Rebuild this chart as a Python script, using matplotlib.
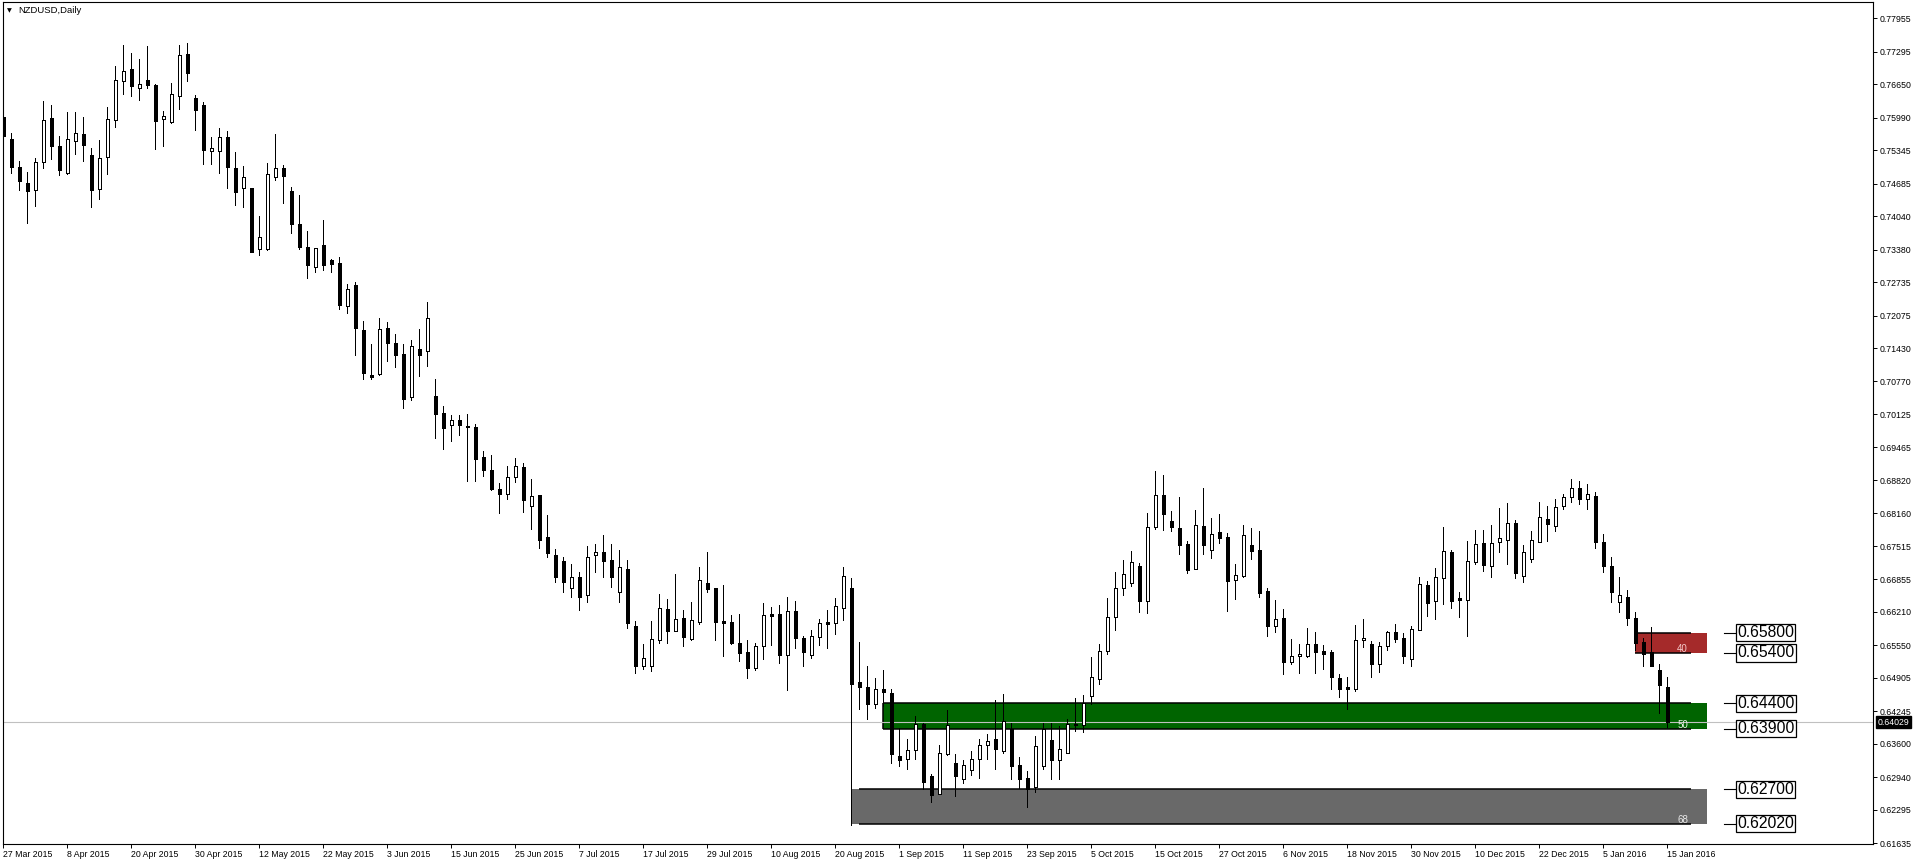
import matplotlib
matplotlib.use("Agg")
import matplotlib.pyplot as plt
from matplotlib.patches import Rectangle
from matplotlib.transforms import blended_transform_factory

# NZDUSD daily candles, 27 Mar 2015 .. 15 Jan 2016
opens = [0.7600, 0.7556, 0.7502, 0.7470, 0.7455, 0.7511, 0.7598, 0.7543, 0.7489, 0.7552,
         0.7566, 0.7525, 0.7458, 0.7522, 0.7594, 0.7671, 0.7696, 0.7658, 0.7673, 0.7663,
         0.7596, 0.7591, 0.7642, 0.7725, 0.7637, 0.7624, 0.7532, 0.7532, 0.7561, 0.7499,
         0.7459, 0.7460, 0.7339, 0.7340, 0.7482, 0.7499, 0.7453, 0.7388, 0.7344, 0.7304,
         0.7346, 0.7317, 0.7311, 0.7227, 0.7267, 0.7179, 0.7089, 0.7092, 0.7182, 0.7154,
         0.7131, 0.7046, 0.7141, 0.7137, 0.7048, 0.7015, 0.6990, 0.7000, 0.6988, 0.6987,
         0.6927, 0.6902, 0.6864, 0.6854, 0.6889, 0.6907, 0.6830, 0.6852, 0.6769, 0.6734,
         0.6722, 0.6668, 0.6690, 0.6655, 0.6733, 0.6739, 0.6723, 0.6660, 0.6707, 0.6593,
         0.6515, 0.6514, 0.6565, 0.6626, 0.6583, 0.6610, 0.6568, 0.6602, 0.6678, 0.6668,
         0.6603, 0.6601, 0.6559, 0.6542, 0.6510, 0.6553, 0.6617, 0.6617, 0.6535, 0.6622,
         0.6569, 0.6535, 0.6571, 0.6601, 0.6600, 0.6628, 0.6668, 0.6482, 0.6472, 0.6438,
         0.6468, 0.6460, 0.6337, 0.6330, 0.6347, 0.6400, 0.6296, 0.6260, 0.6341, 0.6322,
         0.6290, 0.6308, 0.6330, 0.6357, 0.6370, 0.6345, 0.6390, 0.6318, 0.6292, 0.6274,
         0.6316, 0.6367, 0.6328, 0.6343, 0.6397, 0.6398, 0.6454, 0.6489, 0.6543, 0.6611,
         0.6668, 0.6678, 0.6711, 0.6642, 0.6789, 0.6852, 0.6801, 0.6787, 0.6755, 0.6707,
         0.6792, 0.6743, 0.6779, 0.6769, 0.6684, 0.6693, 0.6753, 0.6744, 0.6663, 0.6594,
         0.6609, 0.6523, 0.6533, 0.6533, 0.6557, 0.6543, 0.6541, 0.6490, 0.6472, 0.6469,
         0.6565, 0.6557, 0.6519, 0.6553, 0.6581, 0.6569, 0.6527, 0.6585, 0.6674, 0.6643,
         0.6689, 0.6739, 0.6649, 0.6645, 0.6720, 0.6757, 0.6711, 0.6759, 0.6764, 0.6798,
         0.6692, 0.6726, 0.6760, 0.6804, 0.6792, 0.6830, 0.6848, 0.6866, 0.6845, 0.6850,
         0.6760, 0.6712, 0.6640, 0.6650, 0.6610, 0.6561, 0.6541, 0.6506, 0.6472]
highs = [0.7601, 0.7568, 0.7513, 0.7492, 0.7519, 0.7632, 0.7623, 0.7563, 0.7610, 0.7610,
         0.7600, 0.7538, 0.7555, 0.7619, 0.7701, 0.7743, 0.7727, 0.7715, 0.7741, 0.7665,
         0.7612, 0.7667, 0.7743, 0.7747, 0.7644, 0.7629, 0.7561, 0.7579, 0.7573, 0.7530,
         0.7504, 0.7460, 0.7404, 0.7509, 0.7566, 0.7505, 0.7461, 0.7446, 0.7375, 0.7342,
         0.7396, 0.7319, 0.7323, 0.7270, 0.7273, 0.7197, 0.7151, 0.7203, 0.7194, 0.7170,
         0.7151, 0.7159, 0.7181, 0.7234, 0.7082, 0.7029, 0.7010, 0.7010, 0.7013, 0.6993,
         0.6939, 0.6932, 0.6876, 0.6910, 0.6925, 0.6915, 0.6884, 0.6852, 0.6812, 0.6745,
         0.6730, 0.6715, 0.6700, 0.6752, 0.6755, 0.6773, 0.6755, 0.6743, 0.6723, 0.6603,
         0.6558, 0.6603, 0.6657, 0.6646, 0.6696, 0.6624, 0.6641, 0.6710, 0.6740, 0.6668,
         0.6674, 0.6615, 0.6617, 0.6566, 0.6560, 0.6639, 0.6630, 0.6635, 0.6651, 0.6643,
         0.6573, 0.6585, 0.6607, 0.6625, 0.6649, 0.6710, 0.6688, 0.6562, 0.6514, 0.6490,
         0.6506, 0.6468, 0.6391, 0.6369, 0.6415, 0.6402, 0.6300, 0.6358, 0.6427, 0.6340,
         0.6328, 0.6346, 0.6370, 0.6380, 0.6447, 0.6459, 0.6401, 0.6334, 0.6307, 0.6376,
         0.6402, 0.6402, 0.6396, 0.6409, 0.6450, 0.6457, 0.6532, 0.6558, 0.6648, 0.6700,
         0.6724, 0.6742, 0.6718, 0.6816, 0.6900, 0.6892, 0.6821, 0.6848, 0.6761, 0.6822,
         0.6866, 0.6806, 0.6814, 0.6777, 0.6716, 0.6793, 0.6787, 0.6781, 0.6668, 0.6644,
         0.6627, 0.6568, 0.6558, 0.6589, 0.6581, 0.6556, 0.6546, 0.6498, 0.6492, 0.6595,
         0.6607, 0.6564, 0.6561, 0.6583, 0.6597, 0.6579, 0.6593, 0.6690, 0.6682, 0.6708,
         0.6789, 0.6744, 0.6660, 0.6761, 0.6783, 0.6783, 0.6793, 0.6827, 0.6837, 0.6802,
         0.6753, 0.6781, 0.6839, 0.6831, 0.6845, 0.6854, 0.6885, 0.6880, 0.6875, 0.6858,
         0.6775, 0.6730, 0.6690, 0.6665, 0.6620, 0.6569, 0.6592, 0.6518, 0.6493]
lows = [0.7543, 0.7489, 0.7456, 0.7391, 0.7425, 0.7500, 0.7518, 0.7486, 0.7488, 0.7527,
        0.7514, 0.7423, 0.7438, 0.7488, 0.7581, 0.7646, 0.7642, 0.7634, 0.7658, 0.7537,
        0.7543, 0.7589, 0.7616, 0.7672, 0.7575, 0.7507, 0.7507, 0.7490, 0.7460, 0.7427,
        0.7422, 0.7334, 0.7327, 0.7337, 0.7476, 0.7431, 0.7370, 0.7340, 0.7282, 0.7294,
        0.7298, 0.7294, 0.7221, 0.7213, 0.7130, 0.7081, 0.7082, 0.7090, 0.7118, 0.7105,
        0.7025, 0.7041, 0.7087, 0.7108, 0.6966, 0.6944, 0.6960, 0.6972, 0.6881, 0.6881,
        0.6890, 0.6863, 0.6816, 0.6845, 0.6879, 0.6818, 0.6786, 0.6748, 0.6730, 0.6680,
        0.6660, 0.6650, 0.6625, 0.6640, 0.6700, 0.6690, 0.6670, 0.6640, 0.6590, 0.6500,
        0.6508, 0.6505, 0.6559, 0.6560, 0.6583, 0.6554, 0.6565, 0.6598, 0.6661, 0.6566,
        0.6534, 0.6558, 0.6525, 0.6491, 0.6506, 0.6528, 0.6556, 0.6520, 0.6467, 0.6550,
        0.6514, 0.6529, 0.6556, 0.6550, 0.6577, 0.6606, 0.6200, 0.6430, 0.6410, 0.6432,
        0.6435, 0.6322, 0.6317, 0.6311, 0.6331, 0.6271, 0.6245, 0.6260, 0.6339, 0.6256,
        0.6283, 0.6299, 0.6293, 0.6331, 0.6311, 0.6343, 0.6291, 0.6272, 0.6236, 0.6264,
        0.6310, 0.6290, 0.6290, 0.6343, 0.6386, 0.6384, 0.6438, 0.6479, 0.6537, 0.6586,
        0.6655, 0.6673, 0.6620, 0.6618, 0.6785, 0.6784, 0.6782, 0.6736, 0.6699, 0.6707,
        0.6736, 0.6727, 0.6758, 0.6622, 0.6647, 0.6691, 0.6725, 0.6651, 0.6574, 0.6581,
        0.6499, 0.6519, 0.6501, 0.6531, 0.6501, 0.6509, 0.6469, 0.6453, 0.6430, 0.6465,
        0.6552, 0.6493, 0.6503, 0.6546, 0.6562, 0.6521, 0.6514, 0.6585, 0.6614, 0.6608,
        0.6636, 0.6628, 0.6612, 0.6574, 0.6716, 0.6703, 0.6691, 0.6740, 0.6715, 0.6689,
        0.6681, 0.6720, 0.6760, 0.6762, 0.6782, 0.6825, 0.6838, 0.6835, 0.6825, 0.6748,
        0.6700, 0.6640, 0.6620, 0.6595, 0.6545, 0.6515, 0.6515, 0.6421, 0.6394]
closes = [0.7563, 0.7502, 0.7474, 0.7453, 0.7511, 0.7594, 0.7543, 0.7496, 0.7556, 0.7568,
          0.7545, 0.7455, 0.7520, 0.7596, 0.7673, 0.7691, 0.7662, 0.7665, 0.7663, 0.7593,
          0.7602, 0.7645, 0.7722, 0.7688, 0.7615, 0.7534, 0.7538, 0.7561, 0.7502, 0.7451,
          0.7481, 0.7334, 0.7362, 0.7488, 0.7499, 0.7484, 0.7389, 0.7343, 0.7307, 0.7342,
          0.7307, 0.7309, 0.7229, 0.7259, 0.7182, 0.7094, 0.7085, 0.7180, 0.7154, 0.7130,
          0.7043, 0.7147, 0.7130, 0.7202, 0.7012, 0.6984, 0.7000, 0.6990, 0.6986, 0.6924,
          0.6901, 0.6865, 0.6855, 0.6889, 0.6909, 0.6843, 0.6850, 0.6764, 0.6737, 0.6690,
          0.6680, 0.6690, 0.6650, 0.6729, 0.6739, 0.6722, 0.6690, 0.6709, 0.6600, 0.6515,
          0.6529, 0.6567, 0.6628, 0.6583, 0.6608, 0.6572, 0.6605, 0.6684, 0.6667, 0.6602,
          0.6600, 0.6560, 0.6539, 0.6510, 0.6554, 0.6616, 0.6614, 0.6535, 0.6622, 0.6570,
          0.6541, 0.6573, 0.6600, 0.6598, 0.6632, 0.6693, 0.6479, 0.6473, 0.6438, 0.6468,
          0.6463, 0.6341, 0.6329, 0.6347, 0.6400, 0.6285, 0.6258, 0.6343, 0.6397, 0.6297,
          0.6318, 0.6330, 0.6357, 0.6365, 0.6349, 0.6405, 0.6317, 0.6291, 0.6270, 0.6355,
          0.6389, 0.6329, 0.6349, 0.6399, 0.6399, 0.6440, 0.6492, 0.6543, 0.6611, 0.6668,
          0.6696, 0.6719, 0.6642, 0.6789, 0.6852, 0.6814, 0.6790, 0.6754, 0.6705, 0.6794,
          0.6754, 0.6775, 0.6768, 0.6683, 0.6694, 0.6773, 0.6742, 0.6659, 0.6594, 0.6608,
          0.6523, 0.6533, 0.6537, 0.6557, 0.6541, 0.6537, 0.6493, 0.6469, 0.6469, 0.6565,
          0.6569, 0.6519, 0.6553, 0.6581, 0.6568, 0.6533, 0.6587, 0.6676, 0.6639, 0.6690,
          0.6741, 0.6643, 0.6645, 0.6721, 0.6755, 0.6713, 0.6757, 0.6767, 0.6798, 0.6699,
          0.6739, 0.6763, 0.6808, 0.6796, 0.6828, 0.6848, 0.6866, 0.6845, 0.6855, 0.6760,
          0.6712, 0.6660, 0.6655, 0.6610, 0.6560, 0.6537, 0.6515, 0.6477, 0.6403]

date_labels = ["27 Mar 2015", "8 Apr 2015", "20 Apr 2015", "30 Apr 2015", "12 May 2015",
               "22 May 2015", "3 Jun 2015", "15 Jun 2015", "25 Jun 2015", "7 Jul 2015",
               "17 Jul 2015", "29 Jul 2015", "10 Aug 2015", "20 Aug 2015", "1 Sep 2015",
               "11 Sep 2015", "23 Sep 2015", "5 Oct 2015", "15 Oct 2015", "27 Oct 2015",
               "6 Nov 2015", "18 Nov 2015", "30 Nov 2015", "10 Dec 2015", "22 Dec 2015",
               "5 Jan 2016", "15 Jan 2016"]
price_ticks = [0.77955, 0.77295, 0.76650, 0.75990, 0.75345, 0.74685, 0.74040, 0.73380,
               0.72735, 0.72075, 0.71430, 0.70770, 0.70125, 0.69465, 0.68820, 0.68160,
               0.67515, 0.66855, 0.66210, 0.65550, 0.64905, 0.64245, 0.63600, 0.62940,
               0.62295, 0.61635]

# support / resistance zones: (low, high, first bar, colour, count label)
zone_low = [0.6540, 0.6390, 0.6202]
zone_high = [0.6580, 0.6440, 0.6270]
zone_start = [204, 110, 106]
zone_colors = ["#a52a2a", "#006400", "#696969"]
zone_text = ["40", "50", "68"]
zone_text_colors = ["#f4c8c8", "#e8f0e8", "#e8e8e8"]

level_prices = [0.65800, 0.65400, 0.64400, 0.63900, 0.62700, 0.62020]
last_price = 0.64029

plt.rcParams["font.family"] = ["Liberation Sans", "DejaVu Sans"]

W, H = 1916, 866
fig = plt.figure(figsize=(W / 100, H / 100), dpi=100, facecolor="white")
ax = fig.add_axes([2.7 / W, (H - 844) / H, (1873 - 2.7) / W, 842 / H])

n = len(opens)
xs = list(range(n))

# zones behind the candles
for lo, hi, x0, col, txt, tcol in zip(zone_low, zone_high, zone_start, zone_colors,
                                       zone_text, zone_text_colors):
    ax.add_patch(Rectangle((x0, lo), 212.9 - x0, hi - lo, facecolor=col,
                           edgecolor="none", zorder=1))
    lx0 = x0 + 1 if col == "#696969" else x0
    ax.hlines([lo, hi], lx0, 210.9, color="black", lw=1.1, zorder=1.5)
    ax.text(209.9, lo + 0.0007, txt, color=tcol, fontsize=7, ha="center",
            va="center", zorder=4)
ax.vlines(zone_start[1], zone_low[1], zone_high[1], color="black", lw=1.1, zorder=1.5)

# last price line
ax.axhline(last_price, color="#c0c0c0", lw=0.8, zorder=1.8)

# candles
ax.vlines(xs, lows, highs, color="black", lw=0.72, zorder=2, antialiased=False)
bottoms = [min(o, c) for o, c in zip(opens, closes)]
heights = [abs(c - o) for o, c in zip(opens, closes)]
fills = ["white" if c >= o else "black" for o, c in zip(opens, closes)]
ax.bar(xs, heights, bottom=bottoms, width=0.45, color=fills, edgecolor="black",
       linewidth=0.72, zorder=3, antialiased=False)

# horizontal level labels on the right
for p in level_prices:
    ax.plot([215.1, 216.5], [p, p], color="black", lw=0.8, zorder=4)
    ax.text(216.75, p, "%.5f" % p, fontsize=11.3, ha="left", va="center", zorder=5,
            bbox=dict(boxstyle="square,pad=0.07", fc="white", ec="black", lw=0.9))

ax.set_xlim(-0.075, 233.71)
ax.set_ylim(0.61620, 0.78277)

# axes styling
for s in ax.spines.values():
    s.set_linewidth(0.8)
    s.set_color("black")
ax.yaxis.tick_right()
ax.set_yticks(price_ticks)
ax.set_yticklabels(["%.5f" % p for p in price_ticks])
ax.tick_params(axis="y", length=3, width=0.7, pad=2, labelsize=6.3)
ax.set_xticks(list(range(0, n, 8)))
ax.set_xticklabels(date_labels, ha="left")
ax.tick_params(axis="x", length=3, width=0.7, pad=1.5, labelsize=6.3)

# current price tag on the price scale
tr = blended_transform_factory(ax.transAxes, ax.transData)
ax.text(1.0025, last_price, "%.5f" % last_price, transform=tr, color="white",
        fontsize=6.3, ha="left", va="center", clip_on=False, zorder=6,
        bbox=dict(boxstyle="square,pad=0.15", fc="black", ec="black"))

# chart title
fig.text(7 / W, 1 - 10.5 / H, "\u25bc", fontsize=4.5, family="DejaVu Sans",
         va="center", ha="left")
fig.text(18 / W, 1 - 10.5 / H, "NZDUSD,Daily", fontsize=6.8, va="center", ha="left")

fig.savefig("out.png", dpi=100, facecolor="white")
